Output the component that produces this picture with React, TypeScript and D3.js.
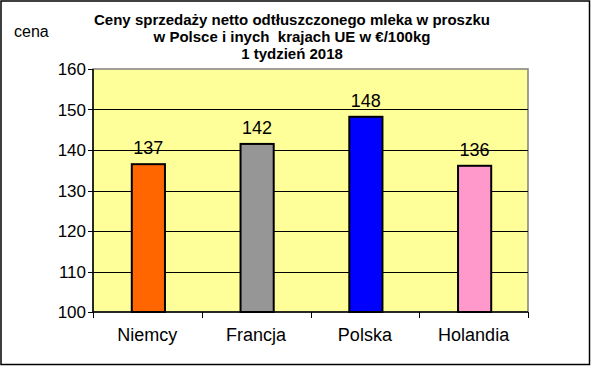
import React, { useEffect } from "react";
import * as d3 from "d3";

const categories = ["Niemcy", "Francja", "Polska", "Holandia"];
const values = [136.5, 141.5, 148.2, 136.1];
const valueLabels = ["137", "142", "148", "136"];
const barColors = ["#FF6600", "#969696", "#0000FF", "#FF99CC"];
const yTicks = [100, 110, 120, 130, 140, 150, 160];
const titleLines = [
  "Ceny sprzedaży netto odtłuszczonego mleka w proszku",
  "w Polsce i inych  krajach UE w €/100kg",
  "1 tydzień 2018",
];

const W = 591;
const H = 366;
const M = { left: 93, right: 528, top: 69, bottom: 312 };

export default function App() {
  useEffect(() => {
    document.body.style.margin = "0";
  }, []);

  const x = d3.scaleBand<string>().domain(categories).range([M.left, M.right]).paddingInner(0).paddingOuter(0);
  const y = d3.scaleLinear().domain([100, 160]).range([M.bottom, M.top]);
  const bw = x.bandwidth() * 0.305;
  const font = "Arial, 'Liberation Sans', sans-serif";

  return (
    <svg width={W} height={H} style={{ display: "block" }} fontFamily={font}>
      <rect x={0} y={0} width={W} height={H} fill="#fff" />
      <rect x={1} y={1} width={W - 2.5} height={H - 2.5} fill="none" stroke="#000" strokeWidth={1.5} />
      <text x={14} y={37} fontSize={16} fill="#000">cena</text>
      {titleLines.map((t, i) => (
        <text key={i} x={292} y={25 + i * 17} textAnchor="middle" fontSize={15} fontWeight="bold" fill="#000" style={{ whiteSpace: "pre" }}>
          {t}
        </text>
      ))}
      <rect x={M.left} y={M.top} width={M.right - M.left} height={M.bottom - M.top} fill="#FFFF99" stroke="#808080" strokeWidth={1.5} />
      {yTicks.slice(1, -1).map((t) => (
        <line key={t} x1={M.left} x2={M.right} y1={Math.round(y(t)) + 0.5} y2={Math.round(y(t)) + 0.5} stroke="#000" strokeWidth={1} />
      ))}
      {yTicks.map((t) => (
        <g key={t}>
          <line x1={M.left - 5} x2={M.left} y1={Math.round(y(t)) + 0.5} y2={Math.round(y(t)) + 0.5} stroke="#000" />
          <text x={86} y={y(t) + 6} textAnchor="end" fontSize={17} fill="#000">{t}</text>
        </g>
      ))}
      {categories.map((c, i) => {
        const cx = (x(c) as number) + x.bandwidth() / 2;
        return (
          <g key={c}>
            <rect x={cx - bw / 2 + 1} y={y(values[i])} width={bw} height={M.bottom - y(values[i])} fill={barColors[i]} stroke="#000" strokeWidth={2} />
            <text x={cx + 1} y={y(values[i]) - 10} textAnchor="middle" fontSize={18} fill="#000">{valueLabels[i]}</text>
            <text x={cx} y={341} textAnchor="middle" fontSize={18} fill="#000">{c}</text>
          </g>
        );
      })}
      {[...categories.map((c) => x(c) as number), M.right].map((tx, i) => (
        <line key={i} x1={Math.round(tx) + 0.5} x2={Math.round(tx) + 0.5} y1={M.bottom} y2={M.bottom + 6} stroke="#000" />
      ))}
      <line x1={M.left} x2={M.left} y1={M.top} y2={M.bottom} stroke="#000" strokeWidth={1.5} />
      <line x1={M.left} x2={M.right} y1={M.bottom} y2={M.bottom} stroke="#000" strokeWidth={1.5} />
    </svg>
  );
}
